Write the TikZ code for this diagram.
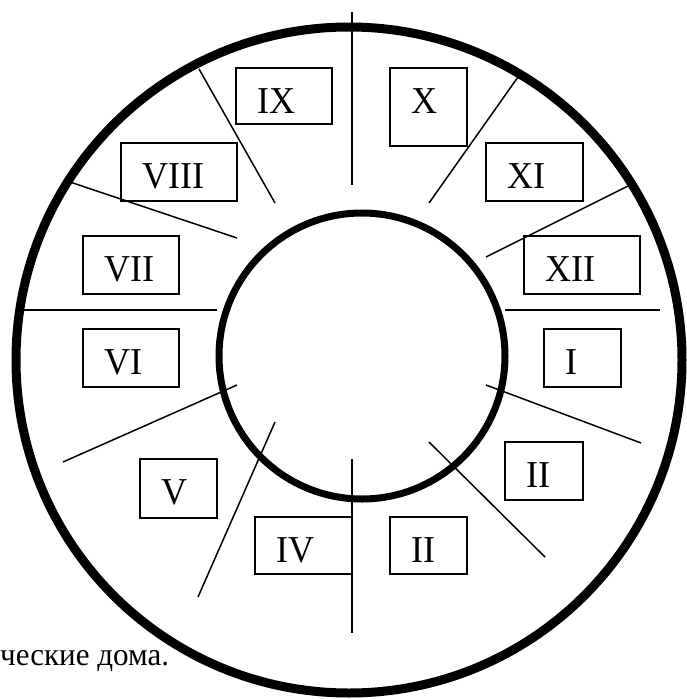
\documentclass[tikz,border=0pt]{standalone}
\usepackage{fontspec}
\setmainfont{Liberation Serif}
\begin{document}
\begin{tikzpicture}[x=1pt,y=-1pt,
  hbox/.style={draw, line width=1.5pt, inner sep=0pt},
  num/.style={font=\fontsize{38}{38}\selectfont, inner sep=0pt, anchor=base west, xscale=0.95},
  cusp/.style={line width=1.5pt}]
\useasboundingbox (0,0) rectangle (686,699);
% circles
\draw[line width=9pt] (349,360) circle[radius=333];
\draw[line width=7pt] (362,356) circle[radius=143];
% cusp lines
\draw[cusp] (352,12) -- (352,185);
\draw[cusp] (352,459) -- (352,633);
\draw[cusp] (24,310) -- (217,310);
\draw[cusp] (505,310) -- (660,310);
\draw[cusp] (199,69) -- (275,203);
\draw[cusp] (64,180) -- (237,238);
\draw[cusp] (518,77) -- (429,203);
\draw[cusp] (632,184) -- (486,257);
\draw[cusp] (237,385) -- (63,462);
\draw[cusp] (486,385) -- (641,443);
\draw[cusp] (275,422) -- (198,597);
\draw[cusp] (429,442) -- (545,557);
% boxes
\node[hbox, minimum width=96pt, minimum height=56pt] (b9) at (284,96) {};
\node[hbox, minimum width=77pt, minimum height=78pt] (b10) at (428.5,107) {};
\node[hbox, minimum width=116pt, minimum height=58pt] (b8) at (179,172) {};
\node[hbox, minimum width=97pt, minimum height=58pt] (b11) at (534.5,172) {};
\node[hbox, minimum width=96pt, minimum height=58pt] (b7) at (131,265) {};
\node[hbox, minimum width=116pt, minimum height=58pt] (b12) at (582,265) {};
\node[hbox, minimum width=96pt, minimum height=58pt] (b6) at (131,358) {};
\node[hbox, minimum width=77pt, minimum height=58pt] (b1) at (582.5,358) {};
\node[hbox, minimum width=77pt, minimum height=59pt] (b5) at (178.5,488.5) {};
\node[hbox, minimum width=78pt, minimum height=58pt] (b2) at (544,471) {};
\node[hbox, minimum width=97pt, minimum height=57pt] (b4) at (303.5,545.5) {};
\node[hbox, minimum width=77pt, minimum height=57pt] (b3) at (428.5,545.5) {};
% labels
\node[num] (t9) at (257,113) {IX};
\node[num] (t10) at (411,113) {X};
\node[num] (t8) at (142,188) {VIII};
\node[num] (t11) at (507,188) {XI};
\node[num] (t7) at (104,281) {VII};
\node[num] (t12) at (545,281) {XII};
\node[num] (t6) at (104,374) {VI};
\node[num] (t1) at (565,374) {I};
\node[num] (t5) at (161,504) {V};
\node[num] (t2) at (526,487) {II};
\node[num] (t4) at (276,562) {IV};
\node[num] (t3) at (411,562) {II};
% caption
\node[font=\fontsize{32}{32}\selectfont, inner sep=0pt, anchor=base west, xscale=0.97] (cap) at (0,665) {ческие дома.};
\end{tikzpicture}
\end{document}
